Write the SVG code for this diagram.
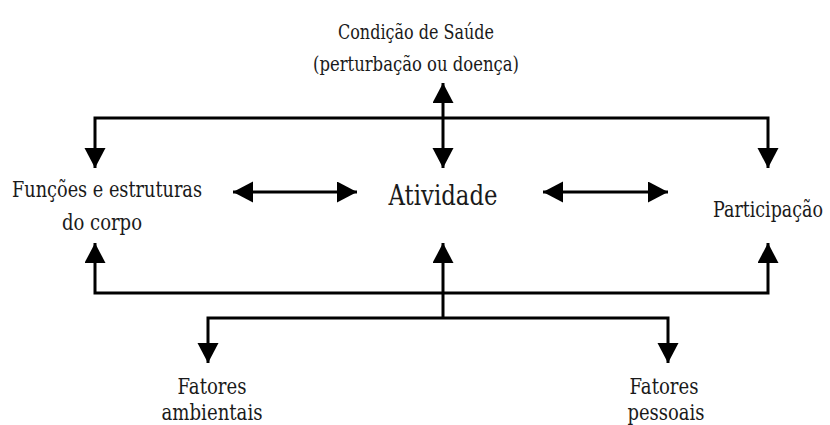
<svg xmlns="http://www.w3.org/2000/svg" width="830" height="425" viewBox="0 0 830 425">
  <defs>
    <marker id="ah" markerUnits="userSpaceOnUse" markerWidth="21" markerHeight="22" refX="20" refY="10.5" orient="auto-start-reverse" viewBox="0 0 21 22">
      <path d="M0,0 L20,10.5 L0,21 Z" fill="#000"/>
    </marker>
  </defs>
  <style>
    text { font-family: "DejaVu Serif", "Liberation Serif", "Times New Roman", Tinos, "Noto Serif", serif; fill: #1a1a1a; text-anchor: middle; }
    .c { fill: none; stroke: #000; stroke-width: 3; marker-start: url(#ah); marker-end: url(#ah); }
    .e { fill: none; stroke: #000; stroke-width: 3; marker-end: url(#ah); }
  </style>
  <rect width="830" height="425" fill="#fff"/>

  <g id="connectors">
    <path class="c" d="M95,168 V118 H768 V168"/>
    <path class="c" d="M443,83 V168"/>
    <path class="c" d="M95,243 V293 H768 V243"/>
    <path class="e" d="M443,318 V243"/>
    <path class="c" d="M208,363 V318 H668 V363"/>
    <path class="c" d="M233,192 H357"/>
    <path class="c" d="M543,192 H668"/>
  </g>

  <g id="condicao">
    <text x="416" y="39" font-size="21" textLength="156" lengthAdjust="spacingAndGlyphs">Condição de Saúde</text>
    <text x="416" y="71" font-size="21" textLength="206" lengthAdjust="spacingAndGlyphs">(perturbação ou doença)</text>
  </g>
  <g id="funcoes">
    <text x="107" y="197" font-size="23" textLength="190" lengthAdjust="spacingAndGlyphs">Funções e estruturas</text>
    <text x="102" y="230" font-size="23" textLength="80" lengthAdjust="spacingAndGlyphs">do corpo</text>
  </g>
  <g id="atividade">
    <text x="443" y="205" font-size="27.5" textLength="109" lengthAdjust="spacingAndGlyphs">Atividade</text>
  </g>
  <g id="participacao">
    <text x="823" y="217" font-size="23" textLength="110" lengthAdjust="spacingAndGlyphs" style="text-anchor:end">Participação</text>
  </g>
  <g id="ambientais">
    <text x="212" y="394" font-size="23" textLength="69" lengthAdjust="spacingAndGlyphs">Fatores</text>
    <text x="212" y="420" font-size="23" textLength="101" lengthAdjust="spacingAndGlyphs">ambientais</text>
  </g>
  <g id="pessoais">
    <text x="664" y="394" font-size="23" textLength="69" lengthAdjust="spacingAndGlyphs">Fatores</text>
    <text x="666" y="420" font-size="23" textLength="77" lengthAdjust="spacingAndGlyphs">pessoais</text>
  </g>
</svg>
